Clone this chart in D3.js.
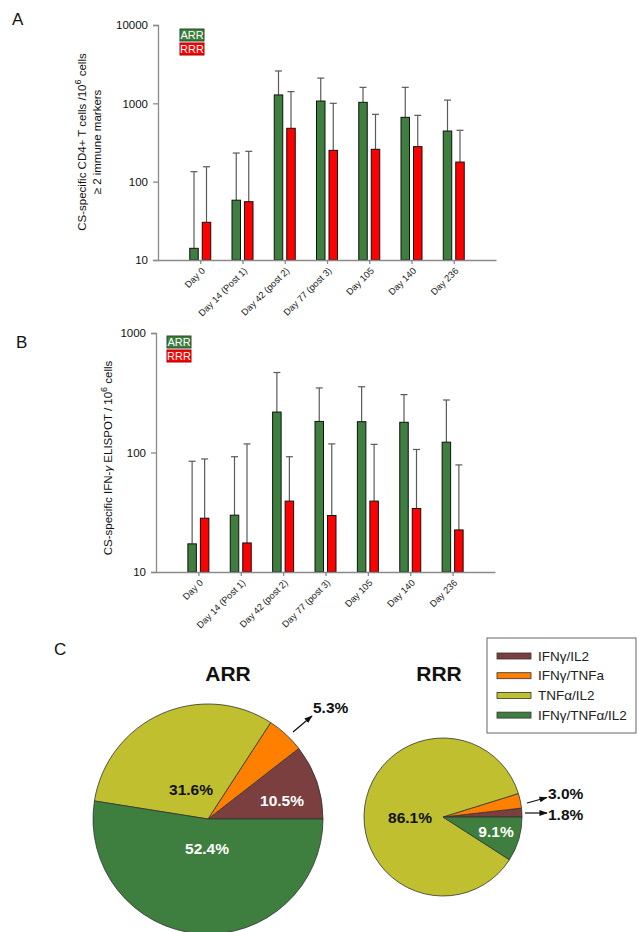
<!DOCTYPE html>
<html><head><meta charset="utf-8">
<script src="https://cdn.jsdelivr.net/npm/d3@7"></script>
<style>
body{margin:0;background:#fff;}
svg{display:block;font-family:"Liberation Sans",Arial,sans-serif;}
</style></head>
<body>
<svg id="chart" width="637" height="932"></svg>
<script>
// ---------- DATA ----------
const days = ["Day 0","Day 14 (Post 1)","Day 42 (post 2)","Day 77 (post 3)","Day 105","Day 140","Day 236"];
const groups = ["ARR","RRR"];
// Panel A: CD4+ T cells >= 2 markers (mean, upper error)
const aARR = [14.1, 58, 1280, 1070, 1030, 663, 443];
const aRRR = [30.3, 55.5, 480, 251, 259, 280, 178];
const aARRerr = [134, 232, 2590, 2100, 1600, 1600, 1100];
const aRRRerr = [155, 244, 1410, 1000, 724, 703, 453];
const aTicks = [10, 100, 1000, 10000];
// Panel B: IFN-g ELISPOT
const bARR = [17.2, 29.9, 218, 182, 181, 179, 122];
const bRRR = [28.2, 17.5, 39.2, 29.7, 39.2, 34, 22.5];
const bARRerr = [84.5, 92.2, 467, 347, 355, 305, 275];
const bRRRerr = [88.3, 118, 92.2, 118, 117, 106, 78.7];
const bTicks = [10, 100, 1000];
// Panel C: pies
const pieCats = ["IFNγ/IL2","IFNγ/TNFa","TNFα/IL2","IFNγ/TNFα/IL2"];
const pieARR = [10.5, 5.3, 31.6, 52.4];
const pieRRR = [1.8, 3.0, 86.1, 9.1];

// ---------- STYLE ----------
const cGreen = "#3e7e3e", cRed = "#ff0000";
const pieColors = ["#7b3f3f", "#ff8000", "#bfbf30", "#3e7e3e"];
const axisCol = "#8a8a8a";

const svg = d3.select("#chart");

function barPanel(cfg){
  const g = svg.append("g");
  const y = d3.scaleLog().domain(cfg.domain).range([cfg.y0, cfg.y1]);
  const x = d3.scalePoint().domain(days).range([cfg.x0, cfg.x1]).padding(1);
  const series = [
    {vals: cfg.arr, err: cfg.arrErr, col: cGreen, off: -10.5},
    {vals: cfg.rrr, err: cfg.rrrErr, col: cRed, off: 2}
  ];
  const bw = 8.5;
  series.forEach(s => {
    g.selectAll(null).data(days).enter().append("line")
      .attr("x1", (d,i)=>x(d)+s.off+bw/2).attr("x2",(d,i)=>x(d)+s.off+bw/2)
      .attr("y1",(d,i)=>y(s.vals[i])).attr("y2",(d,i)=>y(s.err[i]))
      .attr("stroke","#5a5a5a").attr("stroke-width",1.2);
    g.selectAll(null).data(days).enter().append("line")
      .attr("x1", (d,i)=>x(d)+s.off+bw/2-3.5).attr("x2",(d,i)=>x(d)+s.off+bw/2+3.5)
      .attr("y1",(d,i)=>y(s.err[i])).attr("y2",(d,i)=>y(s.err[i]))
      .attr("stroke","#5a5a5a").attr("stroke-width",1.2);
    g.selectAll(null).data(days).enter().append("rect")
      .attr("x",d=>x(d)+s.off).attr("width",bw)
      .attr("y",(d,i)=>y(s.vals[i])).attr("height",(d,i)=>cfg.y0-y(s.vals[i]))
      .attr("fill",s.col).attr("stroke","#111").attr("stroke-width",1);
  });
  const ya = g.append("g").attr("transform",`translate(${cfg.x0},0)`)
    .call(d3.axisLeft(y).tickValues(cfg.ticks).tickFormat(d3.format("d")).tickSize(5).tickPadding(5));
  ya.select(".domain").attr("stroke",axisCol).attr("stroke-width",1.3);
  ya.selectAll(".tick line").attr("stroke",axisCol).attr("stroke-width",1.3);
  ya.selectAll("text").attr("font-size",11.5).attr("fill","#111").attr("font-family","Liberation Sans, Arial, sans-serif");
  const xa = g.append("g").attr("transform",`translate(0,${cfg.y0})`)
    .call(d3.axisBottom(x).tickSize(4).tickSizeOuter(0).tickFormat(""));
  xa.select(".domain").attr("stroke",axisCol).attr("stroke-width",1.3);
  xa.selectAll(".tick line").attr("stroke",axisCol).attr("stroke-width",1.3);
  g.selectAll(null).data(days).enter().append("text")
    .attr("transform",d=>`translate(${x(d)+3},${cfg.y0+9}) rotate(-45)`)
    .attr("text-anchor","end").attr("dy","0.35em")
    .attr("font-size",9.3).attr("fill","#222").text(d=>d);
  groups.forEach((gname,i)=>{
    const ly = cfg.legY + i*14;
    g.append("rect").attr("x",cfg.legX).attr("y",ly).attr("width",24).attr("height",12)
      .attr("fill",i===0?cGreen:cRed).attr("stroke",i===0?"#244d24":"#a00").attr("stroke-width",1);
    g.append("text").attr("x",cfg.legX+12).attr("y",ly+10).attr("text-anchor","middle")
      .attr("font-size",11).attr("fill","#fff").text(gname);
  });
  return g;
}

barPanel({domain:[10,10000], y0:260, y1:25, x0:158, x1:496, ticks:aTicks,
  arr:aARR, rrr:aRRR, arrErr:aARRerr, rrrErr:aRRRerr, legX:180, legY:29});
barPanel({domain:[10,1000], y0:572, y1:333, x0:156, x1:495, ticks:bTicks,
  arr:bARR, rrr:bRRR, arrErr:bARRerr, rrrErr:bRRRerr, legX:167, legY:336});

const tA = svg.append("text").attr("transform","translate(86,142) rotate(-90)")
  .attr("text-anchor","middle").attr("font-size",11.5).attr("fill","#111");
tA.append("tspan").text("CS-specific CD4+ T cells /10");
tA.append("tspan").attr("dy",-5).attr("font-size",9).text("6");
tA.append("tspan").attr("dy",5).text(" cells");
svg.append("text").attr("transform","translate(101,142) rotate(-90)")
  .attr("text-anchor","middle").attr("font-size",11.5).attr("fill","#111").text("≥ 2 immune markers");
const tB = svg.append("text").attr("transform","translate(112,458) rotate(-90)")
  .attr("text-anchor","middle").attr("font-size",11.5).attr("fill","#111");
tB.append("tspan").text("CS-specific IFN-");
tB.append("tspan").attr("font-style","italic").text("γ");
tB.append("tspan").text(" ELISPOT / 10");
tB.append("tspan").attr("dy",-5).attr("font-size",9).text("6");
tB.append("tspan").attr("dy",5).text(" cells");

[["A",12,25],["B",16,348],["C",54,655]].forEach(([t,x,y])=>{
  svg.append("text").attr("x",x).attr("y",y).attr("font-size",17).attr("fill","#111").text(t);
});

svg.append("defs").append("marker").attr("id","arr").attr("viewBox","0 0 10 10")
  .attr("refX",9).attr("refY",5).attr("markerWidth",7).attr("markerHeight",7).attr("orient","auto")
  .append("path").attr("d","M0,1.5 L10,5 L0,8.5 Z").attr("fill","#111");

function pie(vals, cx, cy, r, title, labels){
  const g = svg.append("g").attr("transform",`translate(${cx},${cy})`);
  const arcs = d3.pie().sort(null).startAngle(Math.PI/2).endAngle(Math.PI/2-2*Math.PI)(vals);
  const arc = d3.arc().innerRadius(0).outerRadius(r);
  g.selectAll("path").data(arcs).enter().append("path")
    .attr("d",arc).attr("fill",(d,i)=>pieColors[i]).attr("stroke","#333").attr("stroke-width",0.8);
  svg.append("text").attr("x",cx+title.dx).attr("y",title.y).attr("text-anchor","middle")
    .attr("font-size",21).attr("font-weight","bold").attr("fill","#111").text(title.t);
  labels.forEach(l=>{
    const t = d3.format(".1f")(vals[l.i])+"%";
    svg.append("text").attr("x",l.x).attr("y",l.y).attr("text-anchor",l.anchor||"middle")
      .attr("font-size",15.5).attr("font-weight","bold").attr("fill",l.col).text(t);
    if(l.arrow){
      svg.append("line").attr("x1",l.arrow[0]).attr("y1",l.arrow[1]).attr("x2",l.arrow[2]).attr("y2",l.arrow[3])
        .attr("stroke","#111").attr("stroke-width",1.2).attr("marker-end","url(#arr)");
    }
  });
}
pie(pieARR, 208, 819, 115, {t:"ARR", dx:20, y:681}, [
  {i:0, x:282, y:806, col:"#fff"},
  {i:1, x:313, y:713, col:"#111", anchor:"start", arrow:[293,732,312,716]},
  {i:2, x:191, y:795, col:"#111"},
  {i:3, x:207, y:854, col:"#fff"}
]);
pie(pieRRR, 443, 817, 79, {t:"RRR", dx:-4, y:681}, [
  {i:0, x:548, y:820, col:"#111", anchor:"start", arrow:[525,813,547,813]},
  {i:1, x:548, y:799, col:"#111", anchor:"start", arrow:[527,803,547,797.5]},
  {i:2, x:410, y:823, col:"#111"},
  {i:3, x:496, y:837, col:"#fff"}
]);

const lg = svg.append("g");
lg.append("rect").attr("x",487).attr("y",638).attr("width",149).attr("height",95)
  .attr("fill","#fff").attr("stroke","#666").attr("stroke-width",1);
pieCats.forEach((c,i)=>{
  const ly = 656 + i*19.7;
  lg.append("rect").attr("x",497).attr("y",ly-3).attr("width",34).attr("height",6)
    .attr("fill",pieColors[i]).attr("stroke","#333").attr("stroke-width",0.8);
  lg.append("text").attr("x",538).attr("y",ly).attr("dy","0.35em").attr("font-size",13.5)
    .attr("fill","#222").text(c);
});
</script>
</body></html>
